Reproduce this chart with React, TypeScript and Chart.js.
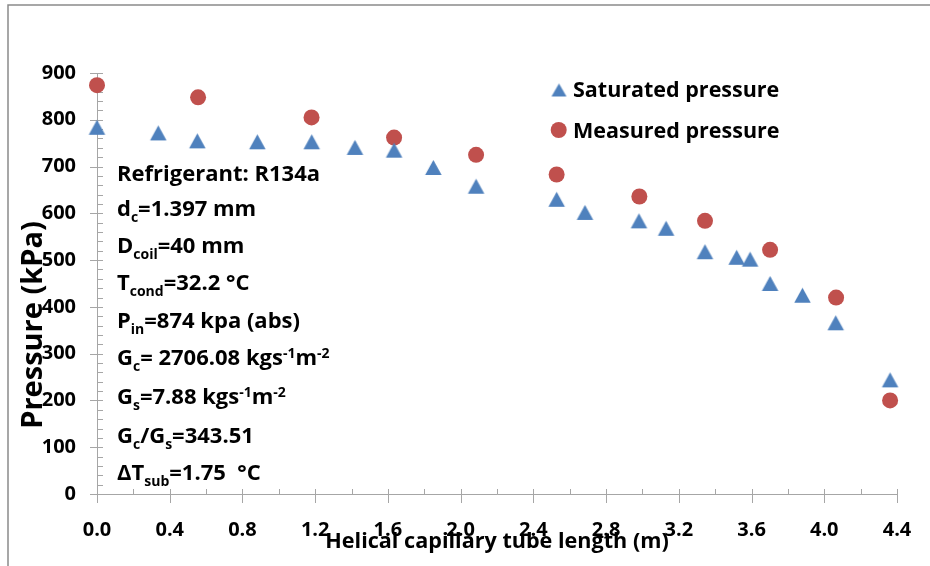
import React, { useEffect, useRef } from 'react';
import { Chart, registerables } from 'chart.js';

Chart.register(...registerables);

// ---- data ----
const satLength = [0, 0.337, 0.552, 0.882, 1.181, 1.419, 1.634, 1.85, 2.085, 2.528, 2.684, 2.981, 3.13, 3.344, 3.518, 3.592, 3.702, 3.88, 4.063, 4.362];
const satPressure = [784, 772, 755, 753, 753, 741, 735, 698, 658, 630, 602, 584, 568, 518, 506, 502, 450, 425, 366, 244];
const measLength = [0, 0.556, 1.18, 1.634, 2.085, 2.528, 2.983, 3.344, 3.702, 4.065, 4.362];
const measPressure = [874, 848, 805, 762, 725, 683, 636, 584, 522, 420, 200];

const xTicks = [0, 0.4, 0.8, 1.2, 1.6, 2.0, 2.4, 2.8, 3.2, 3.6, 4.0, 4.4];
const yTicks = [0, 100, 200, 300, 400, 500, 600, 700, 800, 900];
const xMinorStep = 0.2;
const yMinorStep = 20;

const seriesNames = ['Saturated pressure', 'Measured pressure'];
const xTitle = 'Helical capillary tube length (m)';
const yTitle = 'Pressure (kPa)';

// annotation lines: [text, mode] where mode: '' | 'sub' | 'sup'
const noteLines: [string, string][][] = [
  [['Refrigerant: R134a', '']],
  [['d', ''], ['c', 'sub'], ['=1.397 mm', '']],
  [['D', ''], ['coil', 'sub'], ['=40 mm', '']],
  [['T', ''], ['cond', 'sub'], ['=32.2 \u00B0C', '']],
  [['P', ''], ['in', 'sub'], ['=874 kpa (abs)', '']],
  [['G', ''], ['c', 'sub'], ['= 2706.08 kgs', ''], ['-1', 'sup'], ['m', ''], ['-2', 'sup']],
  [['G', ''], ['s', 'sub'], ['=7.88 kgs', ''], ['-1', 'sup'], ['m', ''], ['-2', 'sup']],
  [['G', ''], ['c', 'sub'], ['/G', ''], ['s', 'sub'], ['=343.51', '']],
  [['\u0394T', ''], ['sub', 'sub'], ['=1.75  \u00B0C', '']],
];

const BLUE = '#4F81BD';
const RED = '#C0504D';
const AXIS = '#a6a6a6';
const FONT = "'Open Sans', sans-serif";

function makeTriangle(w: number, h: number, color: string) {
  const c = document.createElement('canvas');
  const W = Math.ceil(w) + 2;
  const H = Math.ceil(h) + 2;
  c.width = W;
  c.height = H;
  const g = c.getContext('2d')!;
  g.fillStyle = color;
  g.beginPath();
  g.moveTo(W / 2, (H - h) / 2);
  g.lineTo(W / 2 + w / 2, (H + h) / 2);
  g.lineTo(W / 2 - w / 2, (H + h) / 2);
  g.closePath();
  g.fill();
  return c;
}

export default function App() {
  const ref = useRef<HTMLCanvasElement>(null);

  useEffect(() => {
    if (!ref.current) return;
    const tri = makeTriangle(16.5, 15, BLUE);
    const legendTri = makeTriangle(15, 13, BLUE);

    const decor = {
      id: 'decor',
      beforeDatasetsDraw(chart: any) {
        const ctx = chart.ctx;
        const x = chart.scales.x;
        const y = chart.scales.y;
        const { left, bottom } = chart.chartArea;
        ctx.save();
        ctx.strokeStyle = AXIS;
        ctx.lineWidth = 1;
        ctx.beginPath();
        ctx.moveTo(left + 0.5, y.getPixelForValue(900));
        ctx.lineTo(left + 0.5, bottom + 0.5);
        ctx.lineTo(x.getPixelForValue(4.4), bottom + 0.5);
        ctx.stroke();
        ctx.beginPath();
        for (let v = 0; v <= 4.4 + 1e-9; v += xMinorStep) {
          const px = Math.round(x.getPixelForValue(v)) + 0.5;
          ctx.moveTo(px, bottom - 5);
          ctx.lineTo(px, bottom + 0.5);
        }
        for (const v of xTicks) {
          const px = Math.round(x.getPixelForValue(v)) + 0.5;
          ctx.moveTo(px, bottom - 5);
          ctx.lineTo(px, bottom + 9);
        }
        for (let v = 0; v <= 900 + 1e-9; v += yMinorStep) {
          const py = Math.round(y.getPixelForValue(v)) + 0.5;
          ctx.moveTo(left, py);
          ctx.lineTo(left + 6, py);
        }
        for (const v of yTicks) {
          const py = Math.round(y.getPixelForValue(v)) + 0.5;
          ctx.moveTo(left - 7, py);
          ctx.lineTo(left + 6, py);
        }
        ctx.stroke();
        ctx.restore();
      },
      afterDraw(chart: any) {
        const ctx = chart.ctx;
        ctx.save();
        // outer frame
        ctx.strokeStyle = '#8a8a8a';
        ctx.lineWidth = 1.5;
        ctx.beginPath();
        ctx.moveTo(8, chart.height);
        ctx.lineTo(8, 5);
        ctx.lineTo(chart.width, 5);
        ctx.stroke();

        ctx.fillStyle = '#000';
        ctx.textBaseline = 'alphabetic';
        ctx.textAlign = 'left';

        // y axis title
        ctx.save();
        ctx.font = `bold 29px ${FONT}`;
        ctx.translate(41.5, 325);
        ctx.rotate(-Math.PI / 2);
        ctx.textAlign = 'center';
        ctx.fillText(yTitle, 0, 0);
        ctx.restore();

        // legend
        ctx.font = `bold 21.5px ${FONT}`;
        ctx.drawImage(legendTri, 559 - legendTri.width / 2, 90 - legendTri.height / 2);
        ctx.fillText(seriesNames[0], 573, 96.5);
        ctx.fillStyle = RED;
        ctx.beginPath();
        ctx.arc(558.7, 130, 8, 0, Math.PI * 2);
        ctx.fill();
        ctx.fillStyle = '#000';
        ctx.fillText(seriesNames[1], 573, 137.5);

        // annotation text box
        const baselines = [181, 216, 253, 290, 327.5, 364.5, 404, 442.5, 480];
        const main = 22;
        const small = 14;
        noteLines.forEach((line, i) => {
          let cx = 117;
          const by = baselines[i];
          line.forEach(([t, mode]) => {
            if (mode === '') {
              ctx.font = `bold ${main}px ${FONT}`;
              ctx.fillText(t, cx, by);
            } else if (mode === 'sub') {
              ctx.font = `bold ${small}px ${FONT}`;
              ctx.fillText(t, cx, by + 6);
            } else {
              ctx.font = `bold ${small}px ${FONT}`;
              ctx.fillText(t, cx, by - 7);
            }
            cx += ctx.measureText(t).width;
          });
        });
        ctx.restore();
      },
    };

    const tickFont = { family: FONT, size: 20, weight: 'bold' as const };

    const chart = new Chart(ref.current, {
      type: 'scatter',
      plugins: [decor],
      data: {
        datasets: [
          {
            label: seriesNames[0],
            data: satLength.map((v, i) => ({ x: v, y: satPressure[i] })),
            pointStyle: tri as any,
            backgroundColor: BLUE,
            borderColor: BLUE,
            clip: false as any,
          },
          {
            label: seriesNames[1],
            data: measLength.map((v, i) => ({ x: v, y: measPressure[i] })),
            pointStyle: 'circle',
            pointRadius: 8,
            backgroundColor: RED,
            borderColor: RED,
            borderWidth: 0,
            clip: false as any,
          },
        ],
      },
      options: {
        animation: false,
        responsive: false,
        maintainAspectRatio: false,
        layout: { padding: { left: 0, top: 73, right: 33, bottom: 0 } },
        plugins: { legend: { display: false }, tooltip: { enabled: false } },
        scales: {
          x: {
            type: 'linear',
            min: 0,
            max: 4.4,
            afterBuildTicks: (s: any) => {
              s.ticks = xTicks.map((v) => ({ value: v }));
            },
            afterFit: (s: any) => {
              s.height = 72;
            },
            grid: { display: false },
            border: { display: false },
            ticks: {
              color: '#000',
              font: tickFont,
              padding: 16.5,
              maxRotation: 0,
              autoSkip: false,
              callback: (v: any) => Number(v).toFixed(1),
            },
            title: {
              display: true,
              text: xTitle,
              color: '#000',
              font: { family: FONT, size: 21.6, weight: 'bold' },
              padding: { top: 0, bottom: 11 },
            },
          },
          y: {
            type: 'linear',
            min: 0,
            max: 900,
            afterBuildTicks: (s: any) => {
              s.ticks = yTicks.map((v) => ({ value: v }));
            },
            afterFit: (s: any) => {
              s.width = 97;
            },
            grid: { display: false },
            border: { display: false },
            ticks: { color: '#000', font: tickFont, padding: 13 },
            title: { display: false },
          },
        },
      },
    });
    return () => chart.destroy();
  }, []);

  return (
    <canvas
      ref={ref}
      width={930}
      height={566}
      style={{ position: 'absolute', left: 0, top: 0, width: 930, height: 566 }}
    />
  );
}
